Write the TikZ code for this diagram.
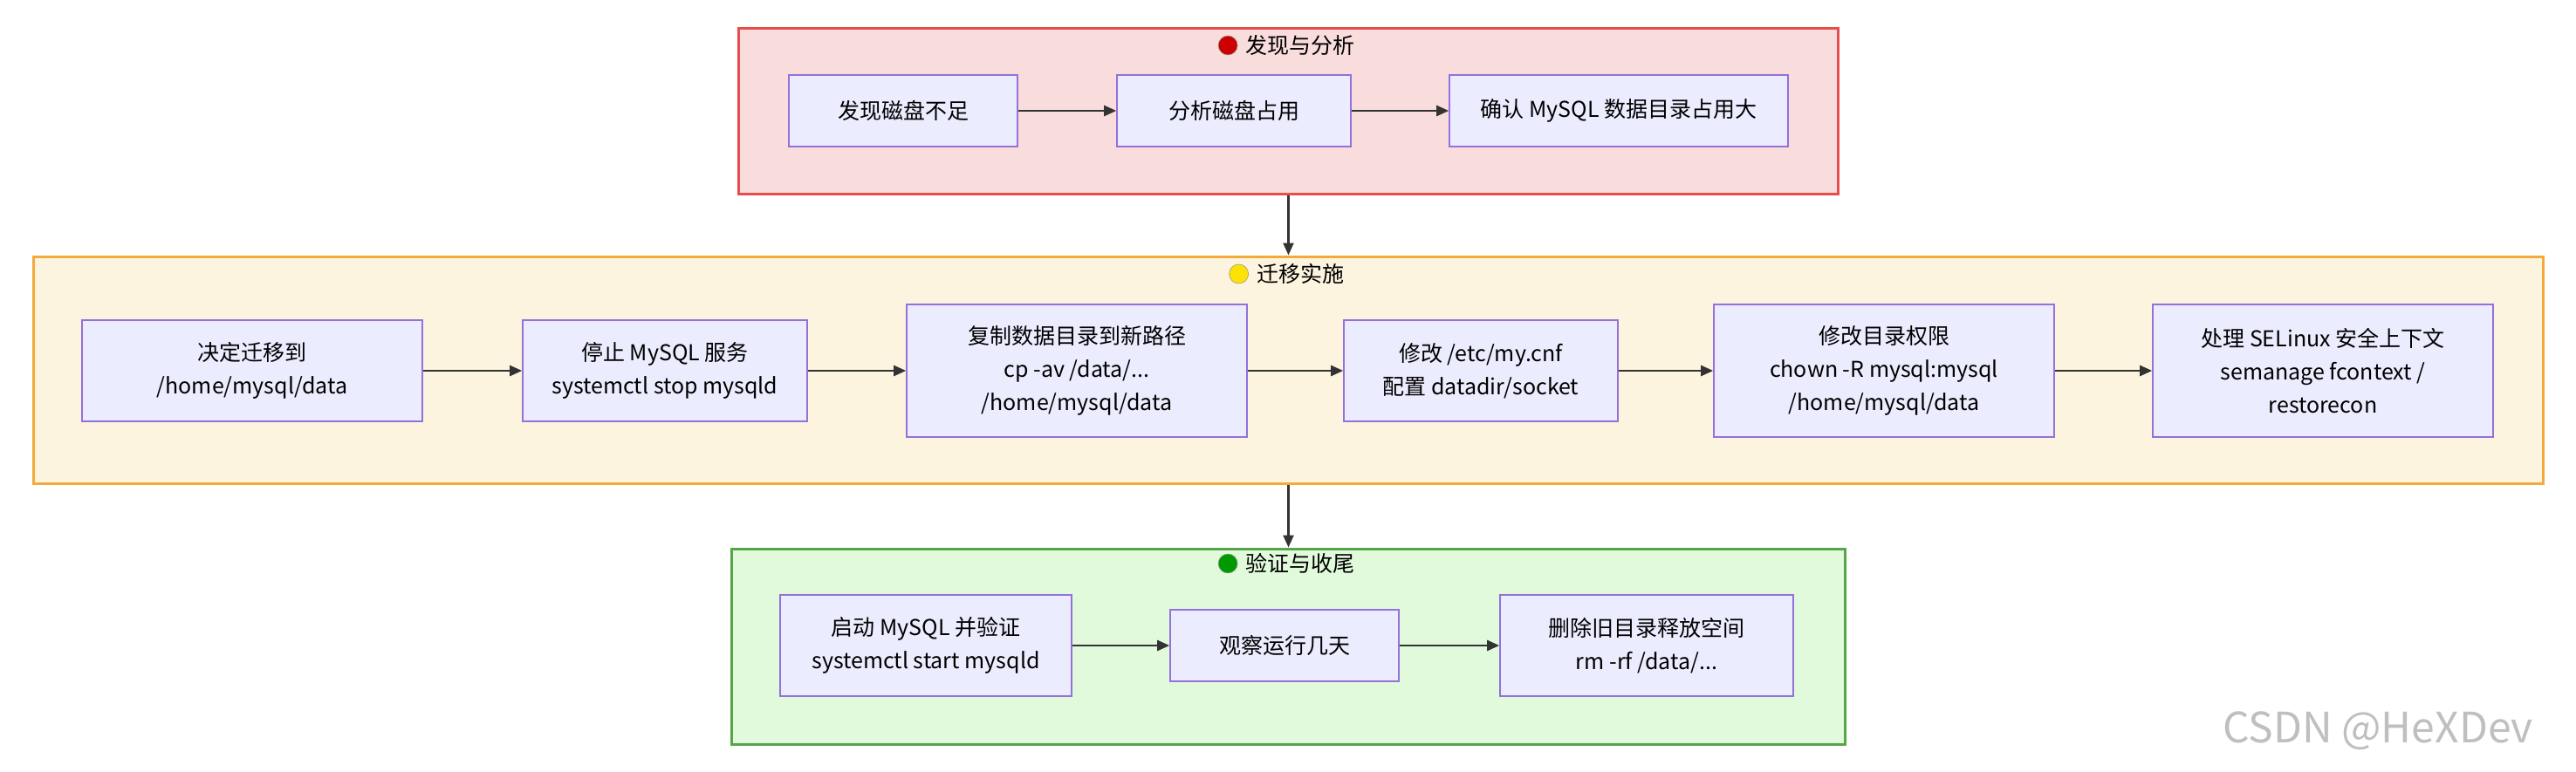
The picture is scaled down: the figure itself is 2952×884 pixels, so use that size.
\documentclass[tikz,border=0pt]{standalone}
\usepackage{fontspec}
\setmainfont{Noto Sans CJK SC}
\usetikzlibrary{arrows.meta,positioning}
\definecolor{stepfill}{HTML}{ECECFF}
\definecolor{stepline}{HTML}{9370DB}
\definecolor{redfill}{HTML}{F9DCDC}
\definecolor{redline}{HTML}{E84C4C}
\definecolor{orangefill}{HTML}{FDF4DF}
\definecolor{orangeline}{HTML}{F5A93B}
\definecolor{greenfill}{HTML}{E2FADC}
\definecolor{greenline}{HTML}{55A648}
\tikzstyle{arrow}=[-{Triangle[length=7pt,width=6pt]},line width=1.2pt,draw=black!80]
\tikzstyle{stage}=[draw=stepline,fill=stepfill,line width=.8pt,align=center,inner sep=0pt]
\tikzstyle{group}=[line width=1.5pt,inner sep=0pt]
\tikzstyle{dot}=[circle,inner sep=0pt,minimum size=11pt,draw=black!40,line width=.3pt]
\begin{document}
\begin{tikzpicture}[x=.5pt,y=-.5pt,font=\fontsize{12.5}{19}\selectfont]
	\useasboundingbox (0,0) rectangle (2952,884);

	%groups
	\node[group,draw=redline,fill=redfill,minimum width=630pt,minimum height=95pt] (g1) at (1476.5,127) {};
	\node[group,draw=orangeline,fill=orangefill,minimum width=1438pt,minimum height=130pt] (g2) at (1476.5,424) {};
	\node[group,draw=greenline,fill=greenfill,minimum width=638pt,minimum height=112pt] (g3) at (1476.5,741) {};

	\node (t1) at (1490,52) {发现与分析};
	\node[dot,fill=red!80!black,left=1pt of t1] (d1) {};
	\node (t2) at (1490,314) {迁移实施};
	\node[dot,fill=yellow!85!orange,left=1pt of t2] (d2) {};
	\node (t3) at (1490,646) {验证与收尾};
	\node[dot,fill=green!60!black,left=1pt of t3] (d3) {};

	%steps
	\node[stage,minimum width=131pt,minimum height=41pt] (a1) at (1035,127) {发现磁盘不足};
	\node[stage,minimum width=134pt,minimum height=41pt] (a2) at (1414,127) {分析磁盘占用};
	\node[stage,minimum width=194pt,minimum height=41pt] (a3) at (1855,127) {确认 MySQL 数据目录占用大};

	\node[stage,minimum width=195pt,minimum height=58pt] (b1) at (289,425) {决定迁移到\\/home/mysql/data};
	\node[stage,minimum width=163pt,minimum height=58pt] (b2) at (762,425) {停止 MySQL 服务\\systemctl stop mysqld};
	\node[stage,minimum width=195pt,minimum height=76pt] (b3) at (1234,425) {复制数据目录到新路径\\cp -av /data/...\\/home/mysql/data};
	\node[stage,minimum width=157pt,minimum height=58pt] (b4) at (1697,425) {修改 /etc/my.cnf\\配置 datadir/socket};
	\node[stage,minimum width=195pt,minimum height=76pt] (b5) at (2159,425) {修改目录权限\\chown -R mysql:mysql\\/home/mysql/data};
	\node[stage,minimum width=195pt,minimum height=76pt] (b6) at (2662,425) {处理 SELinux 安全上下文\\semanage fcontext /\\restorecon};

	\node[stage,minimum width=167pt,minimum height=58pt] (c1) at (1061,740) {启动 MySQL 并验证\\systemctl start mysqld};
	\node[stage,minimum width=131pt,minimum height=41pt] (c2) at (1472,740) {观察运行几天};
	\node[stage,minimum width=168pt,minimum height=58pt] (c3) at (1887,740) {删除旧目录释放空间\\rm -rf /data/...};

	%connectors
	\draw[arrow] (a1) -- (a2);
	\draw[arrow] (a2) -- (a3);
	\draw[arrow] (b1) -- (b2);
	\draw[arrow] (b2) -- (b3);
	\draw[arrow] (b3) -- (b4);
	\draw[arrow] (b4) -- (b5);
	\draw[arrow] (b5) -- (b6);
	\draw[arrow] (c1) -- (c2);
	\draw[arrow] (c2) -- (c3);
	\draw[arrow] (g1.south) -- (g2.north);
	\draw[arrow] (g2.south) -- (g3.north);

	\node[text=black!25,font=\fontsize{24}{28}\selectfont] (wm) at (2725,838) {CSDN @HeXDev};
\end{tikzpicture}
\end{document}
